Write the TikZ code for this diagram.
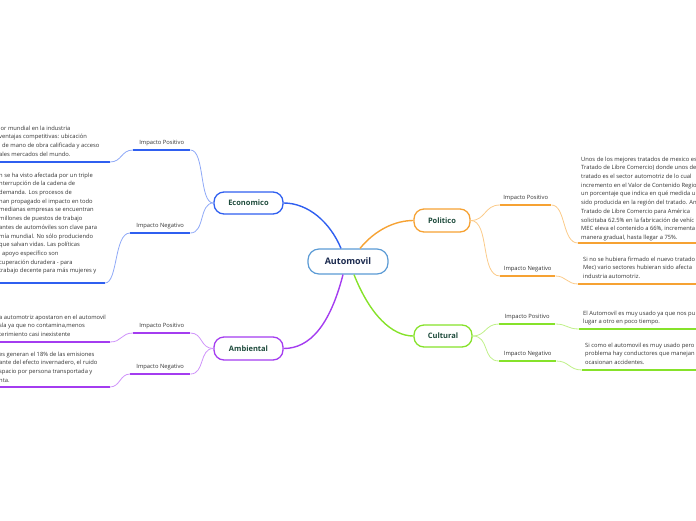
\documentclass[tikz,border=0pt]{standalone}
\usepackage{fontspec}
\setmainfont{Open Sans}
\definecolor{cB}{HTML}{2F5FF0}
\definecolor{cBl}{HTML}{8FA9F7}
\definecolor{cP}{HTML}{A43CF0}
\definecolor{cPl}{HTML}{CF94FA}
\definecolor{cO}{HTML}{F6A233}
\definecolor{cOl}{HTML}{FBCB8A}
\definecolor{cG}{HTML}{86E22A}
\definecolor{cGl}{HTML}{C0F08A}
\definecolor{rootc}{HTML}{5B9BD5}
\definecolor{navy}{HTML}{1B2A4E}
\definecolor{dteal}{HTML}{1E4B3C}
\definecolor{txtc}{HTML}{333333}
\begin{document}
\begin{tikzpicture}[x=1pt,y=-1pt,
 txt/.style={anchor=north west, inner sep=0pt, align=left, font=\fontsize{5.8}{8.7}\selectfont, text=txtc},
 lbl/.style={anchor=south west, inner xsep=0pt, inner ysep=3.5pt, font=\fontsize{5.8}{7}\selectfont, text=txtc},
 root/.style={draw=rootc, line width=1.2pt, rounded corners=11pt, fill=white, font=\bfseries\fontsize{9}{11}\selectfont, text=navy},
 branch/.style={line width=1.3pt, rounded corners=10pt, fill=white, font=\bfseries\fontsize{7.5}{9}\selectfont, text=dteal},
 ul/.style={line width=2pt},
 cv/.style={line width=0.8pt},
 mc/.style={line width=1.4pt}]
\useasboundingbox (0,0) rectangle (696,520);
\clip (0,0) rectangle (696,520);

% main nodes
\node[root, minimum width=80pt, minimum height=25pt] (auto) at (348,261.5) {Automovil};
\node[branch, draw=cB, minimum width=69pt, minimum height=22pt] (eco) at (248.5,203) {Economico};
\node[branch, draw=cP, minimum width=69pt, minimum height=23pt] (amb) at (248.5,348.5) {Ambiental};
\node[branch, draw=cO, minimum width=56pt, minimum height=23pt] (pol) at (442,220.5) {Politico};
\node[branch, draw=cG, minimum width=58pt, minimum height=22pt] (cul) at (443,336) {Cultural};

% main connectors
\draw[mc, cB] ([xshift=-7pt]auto.north) .. controls (330,222) and (308,203) .. (eco.east);
\draw[mc, cO] ([xshift=12pt]auto.north) .. controls (375,230) and (395,220.5) .. (pol.west);
\draw[mc, cP] ([xshift=-5pt]auto.south) .. controls (330,325) and (310,348.5) .. (amb.east);
\draw[mc, cG] ([xshift=6pt]auto.south) .. controls (370,315) and (392,336) .. (cul.west);

% labels
\node[lbl, minimum width=57pt] (ep) at (133,150) {Impacto Positivo};
\node[lbl, minimum width=60pt] (en) at (130,233) {Impacto Negativo};
\node[lbl, minimum width=57pt] (ap) at (133,333) {Impacto Positivo};
\node[lbl, minimum width=60pt] (an) at (130,374) {Impacto Negativo};
\node[lbl, minimum width=51pt] (pp) at (500,205) {Impacto Positivo};
\node[lbl, minimum width=55pt] (pn) at (500,276) {Impacto Negativo};
\node[lbl, minimum width=56pt] (cp) at (499,324) {Impacto Positivo};
\node[lbl, minimum width=57pt] (cn) at (499,361) {Impacto Negativo};
\draw[ul, cB] (ep.south west) -- (ep.south east);
\draw[ul, cB] (en.south west) -- (en.south east);
\draw[ul, cP] (ap.south west) -- (ap.south east);
\draw[ul, cP] (an.south west) -- (an.south east);
\draw[ul, cO] (pp.south west) -- (pp.south east);
\draw[ul, cO] (pn.south west) -- (pn.south east);
\draw[ul, cG] (cp.south west) -- (cp.south east);
\draw[ul, cG] (cn.south west) -- (cn.south east);

% text blocks
\node[txt] (ept) at (-1,125.5) {lor mundial en la industria\\
ventajas competitivas: ubicación\\
l de mano de obra calificada y acceso\\
ales mercados del mundo.};
\node[txt] (ent) at (-1,172.5) {n se ha visto afectada por un triple\\
nterrupción de la cadena de\\
demanda. Los procesos de\\
han propagado el impacto en todo\\
medianas empresas se encuentran\\
millones de puestos de trabajo\\
antes de automóviles son clave para\\
mía mundial. No sólo produciendo\\
que salvan vidas. Las políticas\\
l apoyo específico son\\
cuperación duradera - para\\
trabajo decente para más mujeres y};
\node[txt] (apt) at (-1,314.5) {a automotriz apostaron en el automovil\\
sla ya que no contamina,menos\\
terimiento casi inexistente};
\node[txt] (ant) at (-1,351.5) {es generan el 18\% de las emisiones\\
ante del efecto invernadero, el ruido\\
spacio por persona transportada y\\
nta.};
\node[txt] (ppt) at (581,156.5) {Unos de los mejores tratados de mexico es\\
Tratado de Libre Comercio) donde unos de\\
tratado es el sector automotriz de lo cual\\
incremento en el Valor de Contenido Regio\\
un porcentaje que indica en qué medida u\\
sido producida en la región del tratado. An\\
Tratado de Libre Comercio para América\\
solicitaba 62.5\% en la fabricación de vehíc\\
MEC eleva el contenido a 66\%, incrementa\\
manera gradual, hasta llegar a 75\%.};
\node[txt] (pnt) at (583,256.5) {Si no se hubiera firmado el nuevo tratado\\
Mec) vario sectores hubieran sido afecta\\
industria automotriz.};
\node[txt] (cpt) at (583,310.5) {El Automovil es muy usado ya que nos pu\\
lugar a otro en poco tiempo.};
\node[txt] (cnt) at (585,342.5) {Si como el automovil es muy usado pero\\
problema hay conductores que manejan\\
ocasionan accidentes.};

% text underline ends
\coordinate (ept-u) at (110,162);
\coordinate (ent-u) at (105,283);
\coordinate (apt-u) at (110,342);
\coordinate (ant-u) at (110,387);
\coordinate (ppt-u) at (578,243);
\coordinate (pnt-u) at (578,284);
\coordinate (cpt-u) at (579,329);
\coordinate (cnt-u) at (582,370);
\draw[ul, cB] (ept-u) -- ++(-120,0);
\draw[ul, cB] (ent-u) -- ++(-120,0);
\draw[ul, cP] (apt-u) -- ++(-120,0);
\draw[ul, cP] (ant-u) -- ++(-120,0);
\draw[ul, cO] (ppt-u) -- ++(130,0);
\draw[ul, cO] (pnt-u) -- ++(130,0);
\draw[ul, cG] (cpt-u) -- ++(130,0);
\draw[ul, cG] (cnt-u) -- ++(130,0);

% sub connectors
\draw[cv, cBl] (ept-u) .. controls (122,162) and (121,150) .. (ep.south west);
\draw[cv, cBl] (ep.south east) .. controls (205,150) and (199,203) .. (eco.west);
\draw[cv, cBl] (en.south east) .. controls (205,233) and (199,203) .. (eco.west);
\draw[cv, cBl] (ent-u) .. controls (118,283) and (114,233) .. (en.south west);

\draw[cv, cPl] (ap.south east) .. controls (203,333) and (200,348.5) .. (amb.west);
\draw[cv, cPl] (an.south east) .. controls (205,374) and (199,348.5) .. (amb.west);
\draw[cv, cPl] (apt-u) .. controls (122,342) and (121,333) .. (ap.south west);
\draw[cv, cPl] (ant-u) .. controls (120,387) and (120,374) .. (an.south west);

\draw[cv, cOl] (pol.east) .. controls (486,220.5) and (484,205) .. (pp.south west);
\draw[cv, cOl] (pol.east) .. controls (490,220.5) and (480,276) .. (pn.south west);
\draw[cv, cOl] (pp.south east) .. controls (566,205) and (562,243) .. (ppt-u);
\draw[cv, cOl] (pn.south east) .. controls (566,276) and (567,284) .. (pnt-u);

\draw[cv, cGl] (cul.east) .. controls (486,336) and (485,324) .. (cp.south west);
\draw[cv, cGl] (cul.east) .. controls (490,336) and (482,361) .. (cn.south west);
\draw[cv, cGl] (cp.south east) .. controls (567,324) and (567,329) .. (cpt-u);
\draw[cv, cGl] (cn.south east) .. controls (569,361) and (569,370) .. (cnt-u);
\end{tikzpicture}
\end{document}
